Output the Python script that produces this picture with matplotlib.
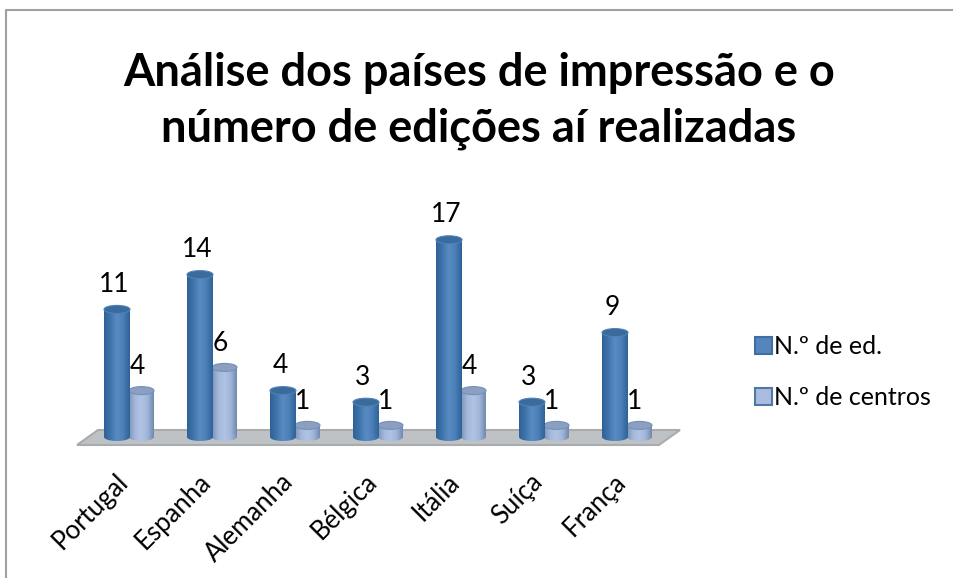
import matplotlib
matplotlib.use("Agg")
import matplotlib.pyplot as plt
import numpy as np
from matplotlib.colors import LinearSegmentedColormap
from matplotlib.patches import Ellipse, Polygon, Rectangle

plt.rcParams["font.family"] = ["Lato", "DejaVu Sans"]

paises = ["Portugal", "Espanha", "Alemanha", "Bélgica", "Itália", "Suíça", "França"]
edicoes = [11, 14, 4, 3, 17, 3, 9]
centros = [4, 6, 1, 1, 4, 1, 1]
titulo = "Análise dos países de impressão e o\nnúmero de edições aí realizadas"
nomes = ["N.º de ed.", "N.º de centros"]

W, H = 954, 578
PX_X = 83.0    # pixels per category
PX_Y = 11.6    # pixels per value
X0, Y0 = 129.0, 437.0


def dx(px):
    return px / PX_X


def dy(px):
    return px / PX_Y


fig = plt.figure(figsize=(W / 100, H / 100), dpi=100)
ax = fig.add_axes([0, 0, 1, 1])
xlim = (-X0 / PX_X, (W - X0) / PX_X)
ylim = ((Y0 - H) / PX_Y, Y0 / PX_Y)
ax.axis("off")

# chart frame, left and top only
fig.add_artist(plt.Line2D([6.5 / W, 6.5 / W, 1], [0, 1 - 10 / H, 1 - 10 / H],
                          color="#a0a0a0", lw=1.5))

# floor
ax.add_patch(Polygon([(dx(77 - X0), dy(Y0 - 445)), (dx(98 - X0), dy(Y0 - 430)),
                      (dx(680 - X0), dy(Y0 - 430)), (dx(659 - X0), dy(Y0 - 445))],
                     closed=True, facecolor="#bfc2c4", edgecolor="#a9acae", lw=1.5, zorder=1))

cmap_dark = LinearSegmentedColormap.from_list(
    "dark", ["#2f6295", "#3f75ad", "#5a8cc3", "#4a7fb8", "#2f6296"])
cmap_light = LinearSegmentedColormap.from_list(
    "light", ["#7f95b8", "#a4b9dc", "#b0c3e4", "#a0b5d9", "#7289ad"])


def cylinder(ax, x, value, width, cmap, top_color, edge, z):
    grad = np.linspace(0, 1, 64).reshape(1, -1)
    ew = width
    eh = dy(8)
    extent = [x - width / 2, x + width / 2, -eh, value + eh]
    body = ax.bar(x, value, width, color="none", zorder=z)[0]
    im = ax.imshow(grad, cmap=cmap, extent=extent, aspect="auto", zorder=z)
    im.set_clip_path(body)
    base = Ellipse((x, 0), ew, eh, facecolor="none", edgecolor="none", zorder=z)
    ax.add_patch(base)
    im2 = ax.imshow(grad, cmap=cmap, extent=extent, aspect="auto", zorder=z)
    im2.set_clip_path(base)
    ax.add_patch(Ellipse((x, value), ew, eh, facecolor=top_color, edgecolor=edge,
                         lw=0.8, zorder=z + 0.2))


xs = np.arange(len(paises))
for i in xs:
    cylinder(ax, i + dx(12.5), centros[i], dx(25), cmap_light, "#8d9fbe", "#6f92bd", 2)
    cylinder(ax, i - dx(12), edicoes[i], dx(26), cmap_dark, "#3b6a9c", "#4f81b8", 3)
    ax.text(i - dx(15), edicoes[i] + dy(25), str(edicoes[i]), fontsize=19,
            ha="center", va="center", color="black", zorder=5)
    ax.text(i + dx(8), centros[i] + dy(24), str(centros[i]), fontsize=19,
            ha="center", va="center", color="black", zorder=5)
    ax.text(i - dx(14), dy(-32), paises[i], fontsize=18.5, rotation=45,
            ha="right", va="top", rotation_mode="anchor", color="black")

ax.set_xlim(*xlim)
ax.set_ylim(*ylim)

fig.text(479 / W, 1 - 101 / H, titulo, fontsize=32.5, fontweight="bold",
         ha="center", va="center", linespacing=1.4, color="black")

handles = [Rectangle((0, 0), 1, 1, facecolor="#5585bd", edgecolor="#3f6ea3", lw=1.5),
           Rectangle((0, 0), 1, 1, facecolor="#a9bcdf", edgecolor="#4f78a8", lw=1.5)]
fig.legend(handles, nomes, loc="upper left", bbox_to_anchor=(748 / W, 1 - 328 / H),
           frameon=False, fontsize=18, handlelength=0.68, handleheight=0.68,
           handletextpad=0.05, labelspacing=1.1, borderpad=0.3, borderaxespad=0)

fig.savefig("out.png", dpi=100)
